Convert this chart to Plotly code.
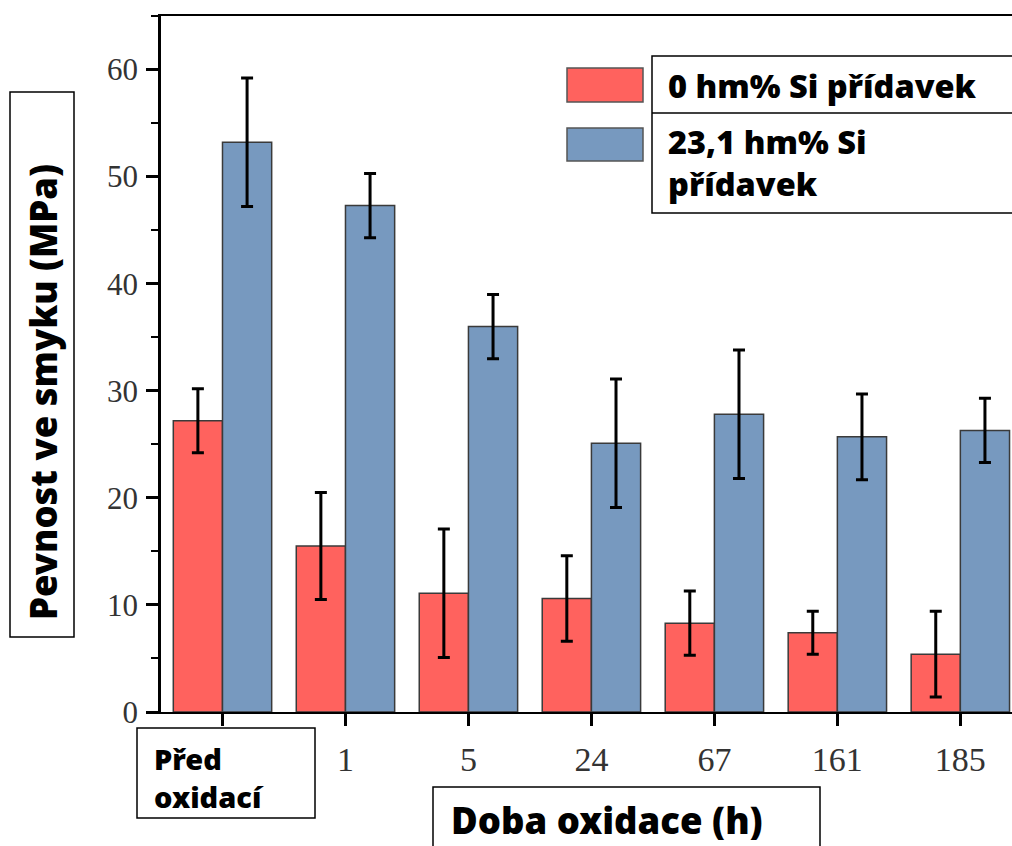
import plotly.graph_objects as go

# ---- data ----
categories = ["Před oxidací", "1", "5", "24", "67", "161", "185"]
tick_labels = ["", "1", "5", "24", "67", "161", "185"]
si0_values = [27.2, 15.5, 11.1, 10.6, 8.3, 7.4, 5.4]
si0_errors = [3.0, 5.0, 6.0, 4.0, 3.0, 2.0, 4.0]
si23_values = [53.2, 47.3, 36.0, 25.1, 27.8, 25.7, 26.3]
si23_errors = [6.0, 3.0, 3.0, 6.0, 6.0, 4.0, 3.0]
series_names = ["0 hm% Si přídavek", "23,1 hm% Si přídavek"]
y_ticks = [0, 10, 20, 30, 40, 50, 60]

RED = "#FF625E"
BLUE = "#7799BF"
EDGE = "#3a3a3a"

W, H = 1012, 846
ML, MR, MT, MB = 161, 0, 16, 134
PW = W - ML - MR
PH = H - MT - MB


def px_x(px):
    return (px - ML) / PW


def px_y(py):
    return (H - MB - py) / PH


fig = go.Figure()
fig.add_trace(go.Bar(
    x=categories, y=si0_values, name=series_names[0],
    marker=dict(color=RED, line=dict(color=EDGE, width=1.5)),
    error_y=dict(type="data", array=si0_errors, visible=True,
                 color="black", thickness=3, width=6),
))
fig.add_trace(go.Bar(
    x=categories, y=si23_values, name=series_names[1],
    marker=dict(color=BLUE, line=dict(color=EDGE, width=1.5)),
    error_y=dict(type="data", array=si23_errors, visible=True,
                 color="black", thickness=3, width=6),
))

BOLD = dict(family="Noto Sans, Open Sans", size=32.5, color="black", weight=900)

shapes = []
annotations = []

# legend box
shapes.append(dict(type="rect", xref="paper", yref="paper",
                   x0=px_x(652), x1=px_x(1040), y0=px_y(213), y1=px_y(56),
                   line=dict(color="black", width=1.5), fillcolor="white", layer="above"))
shapes.append(dict(type="line", xref="paper", yref="paper",
                   x0=px_x(652), x1=px_x(1040), y0=px_y(113), y1=px_y(113),
                   line=dict(color="black", width=1.5), layer="above"))
shapes.append(dict(type="rect", xref="paper", yref="paper",
                   x0=px_x(567), x1=px_x(643), y0=px_y(102), y1=px_y(68),
                   line=dict(color="#555555", width=1.5), fillcolor=RED, layer="above"))
shapes.append(dict(type="rect", xref="paper", yref="paper",
                   x0=px_x(567), x1=px_x(643), y0=px_y(161), y1=px_y(128),
                   line=dict(color="#555555", width=1.5), fillcolor=BLUE, layer="above"))
annotations.append(dict(text=series_names[0], xref="paper", yref="paper",
                        x=px_x(666), y=px_y(86), xanchor="left", yanchor="middle",
                        showarrow=False, font=BOLD, align="left"))
annotations.append(dict(text="23,1 hm% Si<br>přídavek", xref="paper", yref="paper",
                        x=px_x(666), y=px_y(162), xanchor="left", yanchor="middle",
                        showarrow=False, font=BOLD, align="left"))

# y title box
shapes.append(dict(type="rect", xref="paper", yref="paper",
                   x0=px_x(10), x1=px_x(74), y0=px_y(637), y1=px_y(92),
                   line=dict(color="black", width=1.5), fillcolor="white"))
annotations.append(dict(text="Pevnost ve smyku (MPa)", xref="paper", yref="paper",
                        x=px_x(43), y=px_y(622), xanchor="center", yanchor="bottom",
                        textangle=-90, showarrow=False, font=dict(BOLD, size=36.4)))

# x title box
shapes.append(dict(type="rect", xref="paper", yref="paper",
                   x0=px_x(433), x1=px_x(820), y0=px_y(890), y1=px_y(787),
                   line=dict(color="black", width=1.5), fillcolor="white"))
annotations.append(dict(text="Doba oxidace (h)", xref="paper", yref="paper",
                        x=px_x(449), y=px_y(820), xanchor="left", yanchor="middle",
                        showarrow=False, font=dict(BOLD, size=36.5)))

# first category label box
shapes.append(dict(type="rect", xref="paper", yref="paper",
                   x0=px_x(137), x1=px_x(315), y0=px_y(818), y1=px_y(728),
                   line=dict(color="black", width=1.5), fillcolor="white"))
annotations.append(dict(text="Před<br>oxidací", xref="paper", yref="paper",
                        x=px_x(152), y=px_y(777), xanchor="left", yanchor="middle",
                        showarrow=False, font=dict(BOLD, size=29), align="left"))

fig.update_layout(
    width=W, height=H,
    margin=dict(l=ML, r=MR, t=MT, b=MB, pad=0),
    paper_bgcolor="white", plot_bgcolor="white",
    barmode="group", bargap=0.2, bargroupgap=0,
    showlegend=False,
    shapes=shapes, annotations=annotations,
    xaxis=dict(
        type="category", range=[-0.5, 6.42],
        tickvals=categories, ticktext=tick_labels,
        showline=True, linecolor="black", linewidth=2, mirror=True,
        ticks="outside", ticklen=12, tickwidth=2.5, tickcolor="black",
        tickfont=dict(family="Liberation Serif", size=34, color="#333333"),
        ticklabelstandoff=4,
        showgrid=False, zeroline=False,
    ),
    yaxis=dict(
        range=[0, 65], tickvals=y_ticks,
        showline=True, linecolor="black", linewidth=2.5,
        ticks="outside", ticklen=12, tickwidth=2.5, tickcolor="black",
        minor=dict(dtick=5, ticks="outside", ticklen=7, tickwidth=2, tickcolor="black"),
        tickfont=dict(family="Liberation Serif", size=31, color="#333333"),
        ticklabelstandoff=2,
        showgrid=False, zeroline=False,
    ),
)

fig.write_html("out.html")
